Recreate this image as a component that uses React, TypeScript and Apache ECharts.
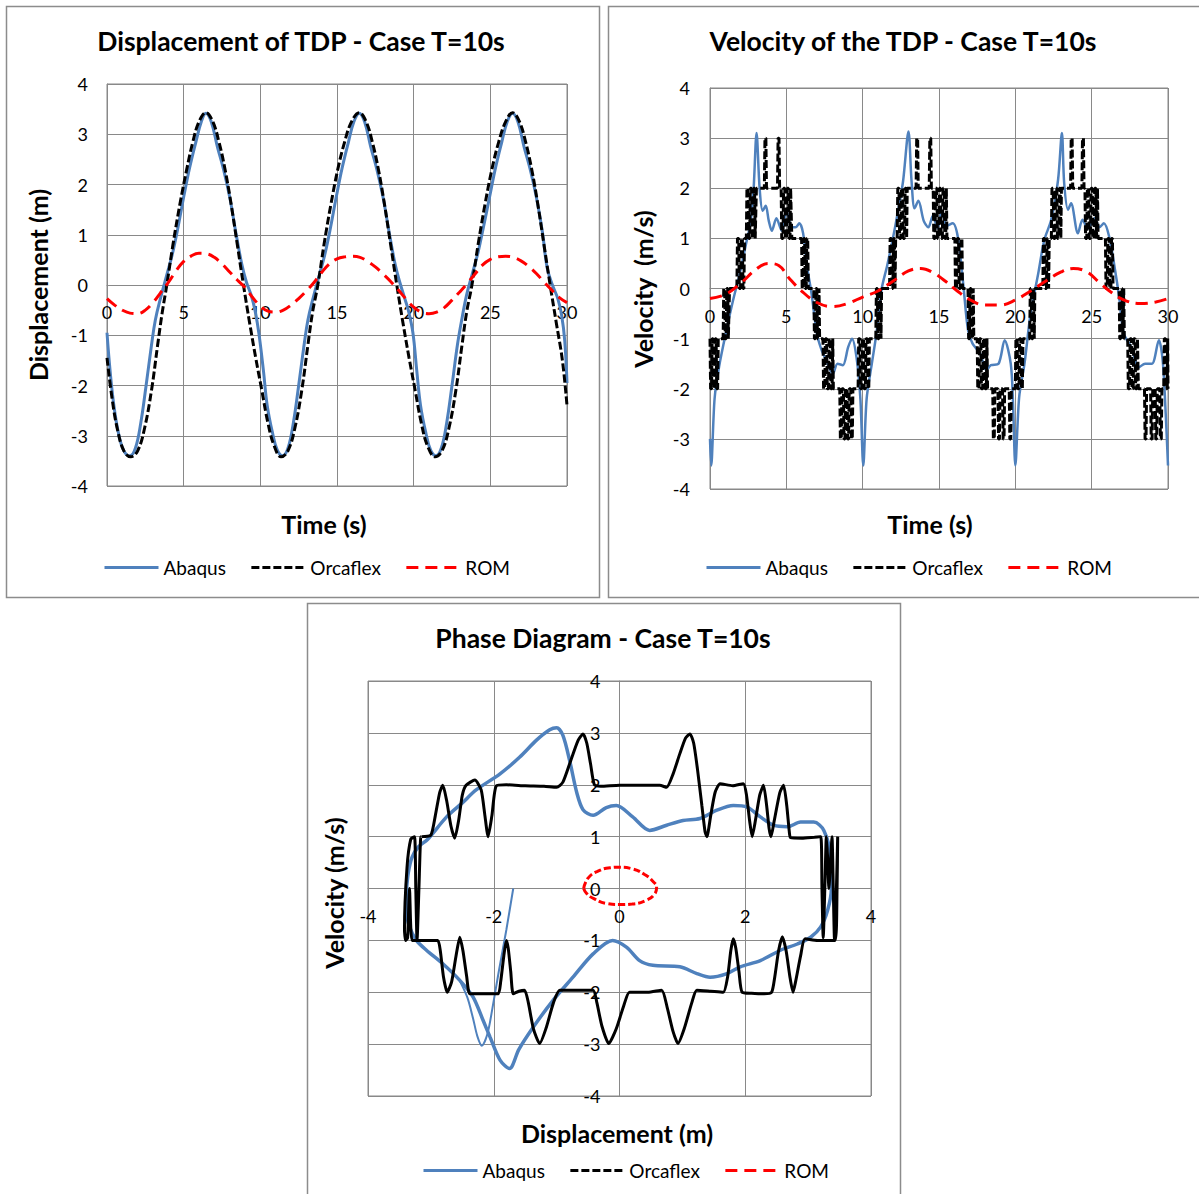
import React, { useEffect, useRef } from "react";
import * as echarts from "echarts";

const FONT = "Lato, 'Open Sans', sans-serif";
const GRID_COLOR = "#898989";
const BLUE = "#4F81BD";
const BLACK = "#000000";
const RED = "#FF0000";

const chartTitles = [
  "Displacement of TDP - Case T=10s",
  "Velocity of the TDP - Case T=10s",
  "Phase Diagram - Case T=10s",
];
const seriesNames = ["Abaqus", "Orcaflex", "ROM"];

// ---- Displacement of TDP (time [s], displacement [m]) ----
const abaqusDisp: [number, number][] = [
  [0, -0.95], [0.2, -1.7], [0.45, -2.4], [0.75, -2.95], [1.1, -3.3], [1.5, -3.4], [1.85, -3.25], [2.2, -2.75],
  [2.55, -2.0], [2.9, -1.2], [3.15, -0.7], [3.5, -0.25], [3.9, 0.2], [4.25, 0.6], [4.6, 1.1], [5.0, 1.75],
  [5.4, 2.35], [5.8, 2.85], [6.15, 3.25], [6.45, 3.42], [6.8, 3.25], [7.2, 2.75], [7.6, 2.3], [8.0, 1.75],
  [8.4, 1.05], [8.8, 0.4], [9.1, 0.05], [9.4, -0.2], [9.65, -0.5], [9.9, -0.95],
  [10.2, -1.7], [10.45, -2.4], [10.8, -2.95], [11.1, -3.28], [11.45, -3.4], [11.8, -3.25], [12.15, -2.75],
  [12.5, -2.0], [12.85, -1.2], [13.1, -0.7], [13.45, -0.25], [13.85, 0.2], [14.2, 0.6], [14.55, 1.1],
  [14.95, 1.75], [15.35, 2.35], [15.75, 2.85], [16.1, 3.25], [16.45, 3.42], [16.8, 3.25], [17.2, 2.75],
  [17.6, 2.3], [18.0, 1.75], [18.4, 1.05], [18.8, 0.4], [19.1, 0.05], [19.4, -0.25], [19.65, -0.5], [19.95, -0.95],
  [20.2, -1.7], [20.45, -2.4], [20.8, -2.95], [21.1, -3.28], [21.45, -3.4], [21.8, -3.25], [22.15, -2.75],
  [22.5, -2.0], [22.85, -1.2], [23.1, -0.75], [23.45, -0.2], [23.85, 0.25], [24.2, 0.65], [24.55, 1.15],
  [24.95, 1.75], [25.35, 2.35], [25.75, 2.85], [26.1, 3.25], [26.45, 3.42], [26.8, 3.25], [27.2, 2.75],
  [27.6, 2.3], [28.0, 1.75], [28.4, 1.05], [28.7, 0.35], [29.05, 0.0], [29.4, -0.27], [29.65, -0.6],
  [29.85, -1.1], [30, -1.95],
];

const orcaflexDisp: [number, number][] = [
  [0, -1.45], [0.35, -2.3], [0.7, -2.9], [1.1, -3.3], [1.55, -3.42], [2.0, -3.3], [2.45, -2.85], [2.9, -2.1],
  [3.3, -1.2], [3.6, -0.55], [3.9, 0], [4.3, 0.8], [4.75, 1.6], [5.2, 2.3], [5.6, 2.85], [6.0, 3.25],
  [6.45, 3.43], [6.9, 3.25], [7.3, 2.85], [7.7, 2.3], [8.1, 1.6], [8.5, 0.8], [8.9, 0], [9.3, -0.75],
  [9.7, -1.45], [10.1, -2.1], [10.5, -2.75], [10.9, -3.2], [11.35, -3.42], [11.8, -3.3], [12.25, -2.85],
  [12.7, -2.1], [13.1, -1.2], [13.4, -0.55], [13.75, 0], [14.15, 0.8], [14.6, 1.6], [15.05, 2.3],
  [15.5, 2.85], [15.95, 3.25], [16.45, 3.43], [16.9, 3.25], [17.3, 2.85], [17.7, 2.3], [18.1, 1.6],
  [18.5, 0.8], [18.9, 0], [19.3, -0.75], [19.7, -1.45], [20.1, -2.1], [20.5, -2.75], [20.9, -3.2],
  [21.4, -3.42], [21.85, -3.3], [22.3, -2.85], [22.75, -2.1], [23.15, -1.2], [23.45, -0.55], [23.8, 0],
  [24.2, 0.8], [24.65, 1.6], [25.1, 2.3], [25.55, 2.85], [26.0, 3.25], [26.45, 3.43], [26.9, 3.25],
  [27.3, 2.85], [27.7, 2.3], [28.1, 1.6], [28.5, 0.8], [28.9, 0], [29.3, -0.75], [29.7, -1.5], [30, -2.4],
];

const romDisp: [number, number][] = [
  [0, -0.27], [0.5, -0.4], [1.0, -0.5], [1.5, -0.56], [2.0, -0.57], [2.5, -0.5], [3.0, -0.35], [3.5, -0.15],
  [4.0, 0.05], [4.5, 0.28], [5.0, 0.47], [5.5, 0.58], [6.0, 0.63], [6.5, 0.62], [7.0, 0.55], [7.5, 0.42],
  [8.0, 0.26], [8.5, 0.1], [9.0, -0.05], [9.5, -0.25], [10.0, -0.42], [10.5, -0.52], [11.0, -0.54],
  [11.5, -0.5], [12.0, -0.4], [12.5, -0.27], [13.0, -0.12], [13.5, 0.05], [14.0, 0.25], [14.5, 0.42],
  [15.0, 0.52], [15.5, 0.56], [16.0, 0.57], [16.5, 0.55], [17.0, 0.47], [17.5, 0.36], [18.0, 0.22],
  [18.5, 0.07], [19.0, -0.1], [19.5, -0.28], [20.0, -0.44], [20.5, -0.54], [21.0, -0.57], [21.5, -0.54],
  [22.0, -0.45], [22.5, -0.3], [23.0, -0.14], [23.5, 0.03], [24.0, 0.22], [24.5, 0.4], [25.0, 0.51],
  [25.5, 0.56], [26.0, 0.57], [26.5, 0.55], [27.0, 0.48], [27.5, 0.37], [28.0, 0.23], [28.5, 0.06],
  [29.0, -0.1], [29.5, -0.25], [30, -0.35],
];

// ---- Velocity of the TDP (time [s], velocity [m/s]) ----
const abaqusVel: [number, number][] = [
  [0, -3.0], [0.08, -3.53], [0.3, -2.2], [0.6, -1.55], [1.1, -0.8], [1.5, -0.25], [1.95, 0.3], [2.4, 0.95],
  [2.65, 1.3], [2.85, 1.95], [3.05, 3.1], [3.25, 2.0], [3.45, 1.55], [3.65, 1.65], [3.85, 1.35], [4.05, 1.15],
  [4.35, 1.4], [4.7, 1.15], [5.0, 1.55], [5.3, 1.25], [5.6, 1.22], [5.85, 1.3], [6.1, 1.1], [6.35, 0.45],
  [6.65, -0.1], [7.0, -0.9], [7.3, -1.22], [7.6, -1.42], [8.05, -1.7], [8.35, -1.5], [8.7, -1.53],
  [9.05, -1.17], [9.3, -1.0], [9.6, -1.38], [9.85, -2.2], [10.04, -3.53],
  [10.26, -2.2], [10.6, -1.5], [10.9, -0.9], [11.25, 0.0], [11.6, 0.45], [12.0, 1.03], [12.35, 1.6],
  [12.65, 2.15], [13.0, 3.13], [13.2, 2.15], [13.4, 1.6], [13.65, 1.75], [14.0, 1.35], [14.3, 1.22],
  [14.6, 1.45], [14.9, 1.2], [15.2, 1.55], [15.5, 1.25], [15.9, 1.3], [16.25, 1.0], [16.6, 0.05],
  [16.9, -0.83], [17.2, -1.1], [17.7, -1.3], [18.1, -1.63], [18.4, -1.53], [18.9, -1.5], [19.3, -1.03],
  [19.7, -1.5], [19.85, -2.3], [20.0, -3.53],
  [20.25, -2.17], [20.6, -1.5], [21.0, -0.5], [21.5, 0.3], [21.9, 0.97], [22.35, 1.37], [22.8, 2.17],
  [23.05, 3.1], [23.2, 2.1], [23.45, 1.57], [23.65, 1.7], [24.1, 1.1], [24.4, 1.37], [24.75, 1.2],
  [25.2, 1.4], [25.5, 1.22], [25.8, 1.3], [26.15, 1.03], [26.5, 0.43], [26.8, -0.17], [27.1, -0.9],
  [27.6, -1.17], [28.1, -1.57], [28.5, -1.5], [28.95, -1.5], [29.4, -1.03], [29.65, -1.43], [29.85, -2.5],
  [30, -3.53],
];

const orcaflexVel: [number, number][] = [
  [0, -1], [0.04, -2], [0.1, -2], [0.14, -1], [0.2, -1], [0.24, -2], [0.3, -2], [0.34, -1], [0.4, -1],
  [0.44, -2], [0.5, -2], [0.54, -1],
  [0.86, -1], [0.9, 0], [0.96, 0], [1.0, -1], [1.06, -1], [1.1, 0], [1.16, 0], [1.2, -1], [1.24, -1], [1.28, 0],
  [1.76, 0], [1.8, 1], [1.88, 1], [1.92, 0], [2.0, 0], [2.04, 1], [2.12, 1], [2.16, 0], [2.22, 0], [2.26, 1],
  [2.38, 1], [2.42, 2], [2.5, 2], [2.54, 1], [2.6, 1], [2.64, 2], [2.72, 2], [2.76, 1], [2.82, 1], [2.86, 2],
  [2.92, 2], [2.96, 1], [3.0, 1], [3.04, 2],
  [3.56, 2], [3.6, 3], [3.66, 3], [3.7, 2], [4.42, 2], [4.46, 3], [4.52, 3], [4.56, 2],
  [4.66, 2], [4.7, 1], [4.78, 1], [4.82, 2], [4.9, 2], [4.94, 1], [5.02, 1], [5.06, 2], [5.14, 2], [5.18, 1],
  [5.24, 1], [5.28, 2], [5.32, 2], [5.36, 1],
  [6.0, 1], [6.04, 0], [6.1, 0], [6.14, 1], [6.2, 1], [6.24, 0], [6.3, 0], [6.34, 1], [6.4, 1], [6.44, 0],
  [6.8, 0], [6.84, -1], [6.9, -1], [6.94, 0], [7.0, 0], [7.04, -1], [7.1, -1], [7.14, 0], [7.18, -1],
  [7.4, -1], [7.44, -2], [7.52, -2], [7.56, -1], [7.64, -1], [7.68, -2], [7.76, -2], [7.8, -1], [7.88, -1],
  [7.92, -2], [8.0, -2], [8.04, -1], [8.08, -2],
  [8.5, -2], [8.54, -3], [8.6, -3], [8.64, -2], [8.74, -2], [8.78, -3], [8.84, -3], [8.88, -2], [8.98, -2],
  [9.02, -3], [9.08, -3], [9.12, -2], [9.22, -2], [9.26, -3], [9.32, -3], [9.36, -2],
  [9.7, -2], [9.74, -1], [9.82, -1], [9.86, -2], [9.94, -2], [9.98, -1], [10.06, -1], [10.1, -2], [10.18, -2],
  [10.22, -1], [10.3, -1], [10.34, -2], [10.4, -2], [10.44, -1],
  [10.86, -1], [10.9, 0], [10.96, 0], [11.0, -1], [11.06, -1], [11.1, 0], [11.16, 0], [11.2, -1], [11.24, 0],
  [11.76, 0], [11.8, 1], [11.88, 1], [11.92, 0], [11.98, 0], [12.02, 1], [12.08, 1], [12.12, 0], [12.16, 1],
  [12.26, 1], [12.3, 2], [12.38, 2], [12.42, 1], [12.5, 1], [12.54, 2], [12.62, 2], [12.66, 1], [12.74, 1],
  [12.78, 2], [12.84, 2], [12.88, 1], [12.92, 2],
  [13.5, 2], [13.54, 3], [13.6, 3], [13.64, 2], [14.36, 2], [14.4, 3], [14.46, 3], [14.5, 2],
  [14.62, 2], [14.66, 1], [14.74, 1], [14.78, 2], [14.86, 2], [14.9, 1], [14.98, 1], [15.02, 2], [15.1, 2],
  [15.14, 1], [15.22, 1], [15.26, 2], [15.34, 2], [15.38, 1], [15.44, 1], [15.48, 2], [15.52, 1],
  [16.04, 1], [16.08, 0], [16.16, 0], [16.2, 1], [16.28, 1], [16.32, 0], [16.4, 0], [16.44, 1], [16.5, 1], [16.54, 0],
  [16.9, 0], [16.94, -1], [17.0, -1], [17.04, 0], [17.1, 0], [17.14, -1], [17.2, -1], [17.24, 0], [17.28, -1],
  [17.5, -1], [17.54, -2], [17.62, -2], [17.66, -1], [17.74, -1], [17.78, -2], [17.86, -2], [17.9, -1],
  [17.98, -1], [18.02, -2], [18.1, -2], [18.14, -1], [18.18, -2],
  [18.52, -2], [18.56, -3], [18.62, -3], [18.66, -2], [18.86, -2], [18.9, -3], [18.96, -3], [19.0, -2],
  [19.16, -2], [19.2, -3], [19.26, -3], [19.3, -2], [19.6, -2], [19.64, -3], [19.7, -3], [19.74, -2],
  [20.0, -2], [20.04, -1], [20.12, -1], [20.16, -2], [20.24, -2], [20.28, -1], [20.36, -1], [20.4, -2],
  [20.46, -2], [20.5, -1],
  [20.94, -1], [20.98, 0], [21.04, 0], [21.08, -1], [21.14, -1], [21.18, 0], [21.24, -1], [21.28, 0],
  [21.8, 0], [21.84, 1], [21.92, 1], [21.96, 0], [22.04, 0], [22.08, 1], [22.14, 1], [22.18, 0], [22.22, 1],
  [22.36, 1], [22.4, 2], [22.48, 2], [22.52, 1], [22.6, 1], [22.64, 2], [22.72, 2], [22.76, 1], [22.84, 1],
  [22.88, 2], [22.94, 2], [22.98, 1], [23.02, 2],
  [23.62, 2], [23.66, 3], [23.72, 3], [23.76, 2], [24.36, 2], [24.4, 3], [24.46, 3], [24.5, 2],
  [24.56, 2], [24.6, 1], [24.68, 1], [24.72, 2], [24.8, 2], [24.84, 1], [24.92, 1], [24.96, 2], [25.04, 2],
  [25.08, 1], [25.16, 1], [25.2, 2], [25.28, 2], [25.32, 1], [25.38, 2], [25.42, 1],
  [25.9, 1], [25.94, 0], [26.02, 0], [26.06, 1], [26.14, 1], [26.18, 0], [26.26, 0], [26.3, 1], [26.36, 1], [26.4, 0],
  [26.8, 0], [26.84, -1], [26.9, -1], [26.94, 0], [27.0, 0], [27.04, -1], [27.1, 0], [27.14, -1],
  [27.36, -1], [27.4, -2], [27.48, -2], [27.52, -1], [27.6, -1], [27.64, -2], [27.72, -2], [27.76, -1],
  [27.84, -1], [27.88, -2], [27.96, -2], [28.0, -1], [28.06, -2],
  [28.46, -2], [28.5, -3], [28.56, -3], [28.6, -2], [28.86, -2], [28.9, -3], [28.96, -3], [29.0, -2],
  [29.16, -2], [29.2, -3], [29.26, -3], [29.3, -2], [29.46, -2], [29.5, -3], [29.56, -3], [29.6, -2],
  [29.72, -2], [29.76, -1], [29.84, -1], [29.88, -2], [29.94, -2], [29.98, -1], [30, -2],
];

const romVel: [number, number][] = [
  [0, -0.2], [1, -0.12], [2, 0.1], [3, 0.38], [3.8, 0.5], [4.5, 0.46], [5.2, 0.2], [6, -0.05], [7, -0.28],
  [8, -0.36], [9, -0.3], [10, -0.17], [11, -0.05], [12, 0.15], [13, 0.35], [13.8, 0.4], [14.6, 0.32],
  [15.4, 0.15], [16.2, -0.05], [17, -0.22], [18, -0.33], [19, -0.33], [20, -0.23], [21, -0.05], [22, 0.15],
  [23, 0.33], [23.8, 0.4], [24.7, 0.33], [25.5, 0.12], [26.3, -0.08], [27.2, -0.24], [28.2, -0.3],
  [29.2, -0.27], [30, -0.2],
];

// ---- Phase diagram (displacement [m], velocity [m/s]) ----
const abaqusPhase: [number, number][] = [
  [-3.39, -0.05], [-3.36, 0.3], [-3.3, 0.6], [-3.2, 0.8], [-3.05, 0.95], [-2.75, 1.38], [-2.5, 1.65],
  [-2.28, 1.9], [-1.9, 2.21], [-1.59, 2.53], [-1.32, 2.86], [-1.11, 3.06], [-1.0, 3.1], [-0.9, 2.95],
  [-0.79, 2.45], [-0.68, 1.85], [-0.58, 1.52], [-0.42, 1.41], [-0.21, 1.56], [-0.05, 1.6], [0.21, 1.38],
  [0.48, 1.12], [0.75, 1.22], [1.01, 1.31], [1.28, 1.35], [1.55, 1.51], [1.81, 1.6], [2.03, 1.57],
  [2.24, 1.38], [2.45, 1.22], [2.67, 1.19], [2.88, 1.28], [3.09, 1.28], [3.25, 1.12], [3.36, 0.6],
  [3.37, 0.0], [3.31, -0.42], [3.2, -0.74], [3.04, -0.94], [2.83, -1.07], [2.56, -1.19], [2.24, -1.39],
  [1.92, -1.51], [1.71, -1.64], [1.44, -1.71], [1.23, -1.64], [0.96, -1.51], [0.53, -1.48], [0.32, -1.39],
  [0.11, -1.13], [-0.11, -1.0], [-0.42, -1.26], [-0.74, -1.71], [-1.06, -2.16], [-1.37, -2.67],
  [-1.6, -3.1], [-1.75, -3.47], [-1.9, -3.31], [-2.06, -2.86], [-2.17, -2.54], [-2.33, -2.09],
  [-2.54, -1.77], [-2.81, -1.45], [-3.07, -1.19], [-3.23, -1.0], [-3.34, -0.74], [-3.39, -0.42], [-3.39, -0.05],
];

const abaqusPhaseStart: [number, number][] = [
  [-1.69, 0.0], [-1.8, -0.8], [-1.92, -1.6], [-2.02, -2.3], [-2.1, -2.8], [-2.19, -3.03], [-2.26, -2.85],
  [-2.33, -2.5], [-2.42, -2.1], [-2.54, -1.78],
];

const orcaflexPhase: [number, number][] = [
  [-3.15, 1.0], [-3.0, 1.03], [-2.93, 1.4], [-2.86, 1.85], [-2.81, 1.99], [-2.75, 1.7], [-2.68, 1.2],
  [-2.62, 0.97], [-2.56, 1.3], [-2.5, 1.8], [-2.44, 1.99], [-2.3, 2.09], [-2.2, 1.9], [-2.14, 1.4],
  [-2.09, 1.0], [-2.03, 1.4], [-1.96, 1.98], [-1.8, 2.0], [-1.5, 1.98], [-1.2, 1.97], [-1.0, 1.95],
  [-0.9, 2.05], [-0.78, 2.45], [-0.66, 2.85], [-0.58, 2.98], [-0.52, 2.8], [-0.46, 2.4], [-0.4, 2.0],
  [-0.3, 1.97], [0.0, 1.99], [0.4, 1.99], [0.64, 1.99], [0.75, 1.95], [0.85, 2.2], [0.96, 2.6], [1.05, 2.9],
  [1.12, 2.98], [1.18, 2.8], [1.24, 2.3], [1.31, 1.6], [1.36, 1.1], [1.39, 1.0], [1.45, 1.4], [1.52, 1.85],
  [1.6, 2.02], [1.8, 1.98], [1.97, 2.02], [2.02, 1.8], [2.07, 1.3], [2.11, 1.0], [2.16, 1.3], [2.23, 1.8],
  [2.29, 1.99], [2.34, 1.6], [2.38, 1.15], [2.41, 1.0], [2.46, 1.3], [2.55, 1.85], [2.61, 1.99], [2.66, 1.6],
  [2.7, 1.1], [2.72, 0.98], [2.9, 0.97], [3.1, 0.99], [3.2, 1.0],
  [3.22, 0.0], [3.24, -0.95], [3.27, 0.2], [3.29, 1.0], [3.31, 0.6], [3.33, 0.0], [3.36, 0.6], [3.38, 1.0],
  [3.4, 0.0], [3.42, -1.0], [3.45, 0.0], [3.47, 1.0], [3.46, 0.0], [3.43, -1.0], [3.3, -1.0], [3.15, -1.0],
  [2.95, -0.97], [2.88, -1.3], [2.8, -1.8], [2.76, -2.0], [2.71, -1.7], [2.65, -1.2], [2.59, -0.93],
  [2.53, -1.2], [2.47, -1.7], [2.42, -2.0], [2.3, -2.03], [2.1, -2.02], [1.95, -2.0], [1.9, -1.6],
  [1.85, -1.15], [1.81, -0.97], [1.77, -1.2], [1.72, -1.7], [1.65, -2.0], [1.45, -1.98], [1.23, -1.96],
  [1.15, -2.2], [1.03, -2.7], [0.93, -2.99], [0.85, -2.75], [0.76, -2.3], [0.67, -1.96], [0.45, -2.0],
  [0.16, -2.0], [0.07, -2.25], [-0.05, -2.7], [-0.17, -2.99], [-0.28, -2.65], [-0.36, -2.2], [-0.42, -1.96],
  [-0.7, -1.96], [-0.95, -1.96], [-1.05, -2.2], [-1.17, -2.7], [-1.27, -2.99], [-1.37, -2.7], [-1.45, -2.2],
  [-1.51, -1.96], [-1.6, -1.98], [-1.69, -2.03], [-1.73, -1.6], [-1.77, -1.15], [-1.8, -1.0], [-1.84, -1.3],
  [-1.89, -1.8], [-1.93, -2.03], [-2.2, -2.03], [-2.38, -2.03], [-2.43, -1.7], [-2.49, -1.2], [-2.54, -0.94],
  [-2.6, -1.3], [-2.67, -1.8], [-2.74, -2.0], [-2.8, -1.7], [-2.85, -1.2], [-2.89, -1.0], [-3.05, -1.0],
  [-3.2, -1.0],
  [-3.3, -1.0], [-3.34, 0.0], [-3.37, -0.95], [-3.4, -1.0], [-3.42, -0.8], [-3.38, 0.4], [-3.32, 0.95],
  [-3.26, 1.0], [-3.24, 0.0], [-3.22, -1.0], [-3.19, 0.0], [-3.16, 1.0], [-3.15, 1.0],
];

const romPhase: [number, number][] = [
  [-0.57, 0.0], [-0.5, 0.2], [-0.35, 0.33], [-0.15, 0.4], [0.0, 0.41], [0.2, 0.38], [0.4, 0.27], [0.53, 0.14],
  [0.59, 0.02], [0.55, -0.12], [0.42, -0.23], [0.2, -0.3], [0.0, -0.31], [-0.2, -0.29], [-0.4, -0.2],
  [-0.52, -0.1], [-0.57, 0.0],
];

// Plot-area rectangles of the three panels (pixels)
const plotRects = [
  { left: 107, top: 84, width: 460, height: 402 },
  { left: 710, top: 88, width: 458, height: 401 },
  { left: 368, top: 681, width: 503, height: 415 },
];

// Axes that cross the middle of their plot area sit at value 0 of the symmetric -4..4 range
function valueAxis(
  gridIndex: number,
  min: number,
  max: number,
  interval: number,
  margin: number,
  position: string,
  offset: number
) {
  return {
    type: "value",
    gridIndex,
    min,
    max,
    interval,
    position,
    offset,
    axisLine: { show: true, onZero: false, lineStyle: { color: GRID_COLOR, width: 1 } },
    axisTick: { show: false },
    axisLabel: { margin, color: "#000", fontSize: 18, fontFamily: FONT },
    splitLine: { show: true, lineStyle: { color: GRID_COLOR, width: 1 } },
  };
}

function line(name: string, idx: number, data: [number, number][], style: any, smooth: number | boolean) {
  return {
    type: "line",
    name,
    xAxisIndex: idx,
    yAxisIndex: idx,
    data,
    symbol: "none",
    showSymbol: false,
    smooth,
    lineStyle: style,
    itemStyle: { color: style.color },
    emphasis: { disabled: true },
  };
}

function text(str: string, x: number, y: number, font: string, rotation = 0) {
  return {
    type: "text",
    x,
    y,
    rotation,
    style: {
      text: str,
      fill: "#000",
      font,
      textAlign: "center",
      textVerticalAlign: "middle",
      align: "center",
      verticalAlign: "middle",
    },
  };
}

function box(x: number, y: number, w: number, h: number) {
  return {
    type: "rect",
    shape: { x, y, width: w, height: h },
    style: { fill: "none", stroke: "#8c8c8c", lineWidth: 1.5 },
    silent: true,
  };
}

function legend(left: number, top: number) {
  return {
    left,
    top,
    orient: "horizontal",
    itemWidth: 54,
    itemHeight: 14,
    itemGap: 24,
    selectedMode: false,
    data: seriesNames,
    itemStyle: { opacity: 0 },
    lineStyle: { width: 3 },
    textStyle: { fontSize: 19, color: "#000", fontFamily: FONT },
  };
}

const solidBlue = { color: BLUE, width: 3, type: "solid" };
const dashBlack = { color: BLACK, width: 3, type: [8, 3] };
const dashRed = { color: RED, width: 3, type: [12, 7] };

export default function App() {
  const ref = useRef<HTMLDivElement>(null);

  useEffect(() => {
    const chart = echarts.init(ref.current!, null, { renderer: "svg" });
    const TITLE_FONT = `bold 26.5px ${FONT}`;
    const AXIS_FONT = `bold 25px ${FONT}`;

    chart.setOption({
      animation: false,
      backgroundColor: "#fff",
      grid: plotRects.map((r) => ({
        ...r,
        show: true,
        borderColor: GRID_COLOR,
        borderWidth: 1,
        outerBoundsMode: "none",
      })),
      xAxis: [
        valueAxis(0, 0, 30, 5, 18, "bottom", -plotRects[0].height / 2),
        valueAxis(1, 0, 30, 5, 18, "bottom", -plotRects[1].height / 2),
        valueAxis(2, -4, 4, 2, 18, "bottom", -plotRects[2].height / 2),
      ],
      yAxis: [
        valueAxis(0, -4, 4, 1, 19, "left", 0),
        valueAxis(1, -4, 4, 1, 20, "left", 0),
        valueAxis(2, -4, 4, 1, 19, "left", -plotRects[2].width / 2),
      ],
      legend: [legend(98, 553), legend(700, 553), legend(417, 1156)],
      series: [
        line("Abaqus", 0, abaqusDisp, solidBlue, 0.4),
        line("Orcaflex", 0, orcaflexDisp, dashBlack, 0.4),
        line("ROM", 0, romDisp, dashRed, 0.4),
        line("Abaqus", 1, abaqusVel, { color: BLUE, width: 2.5 }, 0.3),
        line("Orcaflex", 1, orcaflexVel, dashBlack, false),
        line("ROM", 1, romVel, dashRed, 0.4),
        line("Abaqus", 2, abaqusPhase, { color: BLUE, width: 3.5 }, 0.3),
        line("Abaqus", 2, abaqusPhaseStart, { color: BLUE, width: 2 }, 0.3),
        line("Orcaflex", 2, orcaflexPhase, { color: BLACK, width: 3 }, 0.2),
        line("ROM", 2, romPhase, { color: RED, width: 3, type: [7, 3] }, 0.5),
      ],
      graphic: [
        box(6.5, 6.5, 593, 591),
        box(608.5, 6.5, 600, 591),
        box(307.5, 603.5, 593, 600),
        text(chartTitles[0], 301, 41, TITLE_FONT),
        text(chartTitles[1], 903, 41, TITLE_FONT),
        text(chartTitles[2], 603, 638, TITLE_FONT),
        text("Time (s)", 324, 524, AXIS_FONT),
        text("Time (s)", 930, 524, AXIS_FONT),
        text("Displacement (m)", 617, 1133, AXIS_FONT),
        text("Displacement (m)", 38, 285, AXIS_FONT, Math.PI / 2),
        text("Velocity  (m/s)", 643, 289, AXIS_FONT, Math.PI / 2),
        text("Velocity (m/s)", 334, 893, AXIS_FONT, Math.PI / 2),
      ],
    });

    return () => chart.dispose();
  }, []);

  return (
    <div
      ref={ref}
      style={{ position: "absolute", left: 0, top: 0, width: 1199, height: 1194, background: "#fff" }}
    />
  );
}
